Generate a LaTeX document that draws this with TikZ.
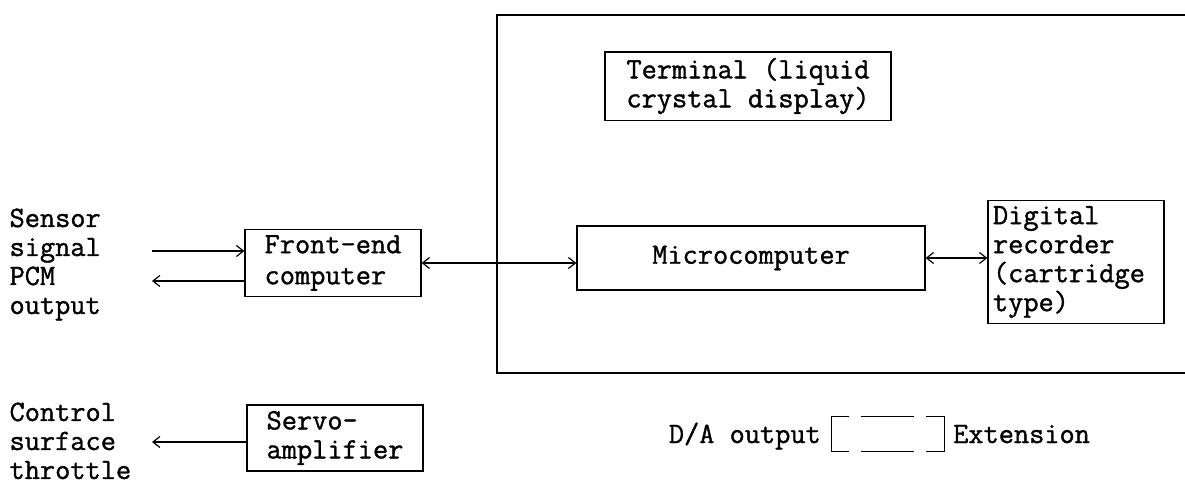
\documentclass[tikz,border=0pt]{standalone}
\usepackage{fontspec}
\newfontfamily\typer{Latin Modern Mono}[FakeBold=1.2]
\usetikzlibrary{positioning,arrows.meta}

\begin{document}
\begin{tikzpicture}[x=1pt,y=-1pt,font={\typer\fontsize{29.5}{29}\selectfont},line width=1.2pt,>={Straight Barb[length=7pt,width=11pt]}]
% Two node styles: framed block and free label
\tikzstyle{block}=[draw,inner sep=6pt,align=left];
\tikzstyle{free text}=[align=left,anchor=north west,inner sep=0pt];
\tikzstyle{side text}=[inner sep=6pt,text height=18pt,text depth=6pt];
\useasboundingbox (0,0) rectangle (1185,490);
% The enclosure (open on the right)
\coordinate (enc ne) at (1185,15);
\coordinate (enc nw) at (497,15);
\coordinate (enc sw) at (497,373);
\coordinate (enc se) at (1185,373);
\draw (enc ne) -- (enc nw) -- (enc sw) -- (enc se);
% The blocks
\node[block,minimum width=286,minimum height=52] (term) at (748,86) {Terminal (liquid\\crystal display)};
\node[block,minimum width=176,minimum height=67] (fe) at (333,263) {Front-end\\[2pt]computer};
\node[block,minimum width=348,minimum height=64] (mc) at (751,258) {Microcomputer};
\node[block,text width=166,inner xsep=5pt,minimum height=112] (rec) at (1076,262) {Digital\\recorder\\(cartridge\\type)};
\node[block,minimum width=176,minimum height=56] (servo) at (335,438) {Servo-\\amplifier};
% Inputs and outputs on the left
\node[free text] (sensor) at (9,208) {Sensor\\signal\\PCM\\output};
\node[free text] (ctrl) at (9,402) {Control\\surface\\throttle};
\coordinate (sig in) at (152,251);
\coordinate (pcm out) at (152,281);
\coordinate (ctrl out) at (152,442);
\draw[->] (sig in) -- (sig in -| fe.west);
\draw[->] (pcm out -| fe.west) -- (pcm out);
\draw[->] (servo.west |- ctrl out) -- (ctrl out);
% Links between the blocks
\draw[<->] (fe.east) -- (fe.east -| mc.west);
\draw[<->] (mc.east) -- (mc.east -| rec.west);
% Extension slot, a broken box
\node[minimum width=112,minimum height=34,inner sep=0pt] (ext) at (888,434) {};
\draw ([xshift=18pt]ext.north west) -- (ext.north west) -- (ext.south west) -- ([xshift=18pt]ext.south west);
\draw ([xshift=-19pt]ext.north east) -- (ext.north east) -- (ext.south east) -- ([xshift=-19pt]ext.south east);
\draw ([xshift=30pt]ext.north west) -- ([xshift=-31pt]ext.north east);
\draw ([xshift=30pt]ext.south west) -- ([xshift=-31pt]ext.south east);
\node[side text,left=4pt of ext,yshift=-3pt] (da) {D/A output};
\node[side text,right=2pt of ext,yshift=-3pt] (extn) {Extension};
\end{tikzpicture}
\end{document}
